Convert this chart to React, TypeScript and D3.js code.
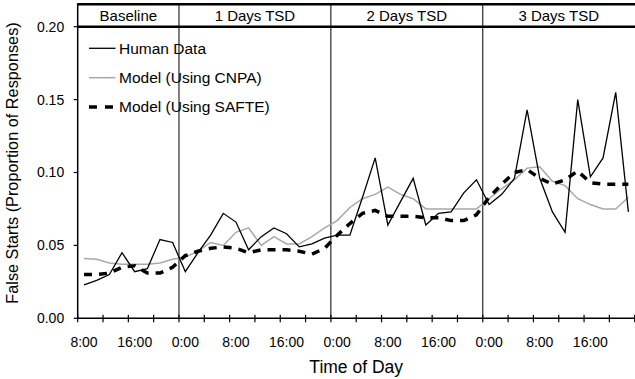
import { useEffect, useRef } from 'react';
import * as d3 from 'd3';

// hour of day for each 2-hour bin
const hours = [8, 10, 12, 14, 16, 18, 20, 22, 0, 2, 4, 6, 8, 10, 12, 14, 16, 18, 20, 22,
  0, 2, 4, 6, 8, 10, 12, 14, 16, 18, 20, 22, 0, 2, 4, 6, 8, 10, 12, 14, 16, 18, 20, 22];

const human = [0.023, 0.026, 0.030, 0.045, 0.032, 0.034, 0.054, 0.052, 0.032, 0.045,
  0.057, 0.072, 0.066, 0.047, 0.056, 0.062, 0.058, 0.049, 0.051, 0.055,
  0.057, 0.057, 0.083, 0.110, 0.064, 0.080, 0.096, 0.064, 0.072, 0.073,
  0.086, 0.095, 0.078, 0.085, 0.096, 0.143, 0.096, 0.073, 0.059, 0.150,
  0.097, 0.110, 0.155, 0.073];

const cnpa = [0.041, 0.0405, 0.038, 0.037, 0.037, 0.037, 0.038, 0.0405, 0.042, 0.046,
  0.052, 0.050, 0.059, 0.062, 0.050, 0.056, 0.051, 0.051, 0.056, 0.062,
  0.067, 0.076, 0.082, 0.085, 0.090, 0.085, 0.082, 0.075, 0.075, 0.075,
  0.075, 0.075, 0.082, 0.089, 0.095, 0.103, 0.104, 0.094, 0.091, 0.082,
  0.078, 0.075, 0.075, 0.083];

const safte = [0.030, 0.030, 0.031, 0.035, 0.036, 0.031, 0.031, 0.035, 0.043, 0.046,
  0.048, 0.049, 0.048, 0.045, 0.047, 0.047, 0.047, 0.046, 0.044, 0.048,
  0.057, 0.065, 0.072, 0.074, 0.070, 0.070, 0.070, 0.069, 0.069, 0.067,
  0.067, 0.071, 0.083, 0.092, 0.100, 0.102, 0.096, 0.092, 0.095, 0.101,
  0.093, 0.092, 0.092, 0.092];

const sectionLabels = ['Baseline', '1 Days TSD', '2 Days TSD', '3 Days TSD'];
const sectionStarts = [0, 8, 20, 32];

const yTicks = [0, 0.05, 0.1, 0.15, 0.2];

const seriesNames = ['Human Data', 'Model (Using CNPA)', 'Model (Using SAFTE)'];

const FONT = '"Liberation Sans", Arial, sans-serif';

const App = () => {
  const svgRef = useRef(null);

  useEffect(() => {
    const svg = d3.select(svgRef.current);
    svg.selectAll('*').remove();

    const left = 77.7, right = 634.7, top = 26.7, bottom = 318.3, bandTop = 4.3;

    const x = d3.scaleBand()
      .domain(hours.map((_, i) => i))
      .range([left, right])
      .padding(0);
    const step = x.step();
    const cx = i => x(i) + step / 2;

    const y = d3.scaleLinear().domain([0, 0.2]).range([bottom, top]);

    const g = svg.append('g').style('font-family', FONT);

    // section dividers
    sectionStarts.slice(1).forEach(s => {
      g.append('line')
        .attr('x1', x(s)).attr('x2', x(s))
        .attr('y1', bandTop).attr('y2', bottom)
        .attr('stroke', '#000').attr('stroke-width', 1);
    });

    // header band
    g.append('line').attr('x1', left).attr('x2', 635).attr('y1', bandTop).attr('y2', bandTop)
      .attr('stroke', '#000').attr('stroke-width', 2.5);
    g.append('line').attr('x1', left).attr('x2', 635).attr('y1', top).attr('y2', top)
      .attr('stroke', '#000').attr('stroke-width', 2.5);

    sectionLabels.forEach((lab, k) => {
      const s = sectionStarts[k];
      const e = k + 1 < sectionStarts.length ? sectionStarts[k + 1] : hours.length;
      const mid = (x(s) + x(e - 1) + step) / 2;
      g.append('text')
        .attr('x', mid).attr('y', 21)
        .attr('text-anchor', 'middle')
        .style('font-size', '15px')
        .text(lab);
    });

    // y axis
    g.append('line').attr('x1', left).attr('x2', left).attr('y1', bandTop - 1).attr('y2', bottom)
      .attr('stroke', '#000').attr('stroke-width', 1.5);
    yTicks.forEach(t => {
      g.append('line').attr('x1', left - 4).attr('x2', left).attr('y1', y(t)).attr('y2', y(t))
        .attr('stroke', '#000').attr('stroke-width', 1.2);
      g.append('text')
        .attr('x', left - 13.5).attr('y', y(t))
        .attr('dy', '0.35em')
        .attr('text-anchor', 'end')
        .style('font-size', '14px')
        .text(d3.format('.2f')(t));
    });

    // x axis
    g.append('line').attr('x1', left).attr('x2', right).attr('y1', bottom).attr('y2', bottom)
      .attr('stroke', '#000').attr('stroke-width', 1.5);
    const tickIdx = d3.range(0, hours.length + 1, 2);
    tickIdx.forEach(i => {
      const tx = i < hours.length ? x(i) : right;
      g.append('line').attr('x1', tx).attr('x2', tx).attr('y1', bottom - 3.5).attr('y2', bottom + 4)
        .attr('stroke', '#000').attr('stroke-width', 1.2);
    });
    hours.forEach((h, i) => {
      if (i % 4 !== 0) return;
      g.append('text')
        .attr('x', cx(i)).attr('y', 346.5)
        .attr('text-anchor', 'middle')
        .style('font-size', '14px')
        .text(`${h}:00`);
    });

    // axis titles
    g.append('text')
      .attr('x', (left + right) / 2).attr('y', 372.7)
      .attr('text-anchor', 'middle')
      .style('font-size', '17.5px')
      .text('Time of Day');
    g.append('text')
      .attr('transform', `translate(18,163) rotate(-90)`)
      .attr('text-anchor', 'middle')
      .style('font-size', '16.3px')
      .text('False Starts (Proportion of Responses)');

    // lines
    const line = d3.line().x((d, i) => cx(i)).y(d => y(d));

    g.append('path').datum(cnpa).attr('d', line)
      .attr('fill', 'none').attr('stroke', '#a8a8a8').attr('stroke-width', 1.5);
    g.append('path').datum(safte).attr('d', line)
      .attr('fill', 'none').attr('stroke', '#000').attr('stroke-width', 3.5)
      .attr('stroke-dasharray', '8,7');
    g.append('path').datum(human).attr('d', line)
      .attr('fill', 'none').attr('stroke', '#000').attr('stroke-width', 1.3)
      .attr('stroke-linejoin', 'miter');

    // legend
    const legendY = [48.3, 77.7, 107];
    const styles = [
      { stroke: '#000', width: 1.3, dash: null },
      { stroke: '#a8a8a8', width: 1.5, dash: null },
      { stroke: '#000', width: 3.5, dash: '8,8' },
    ];
    seriesNames.forEach((name, k) => {
      g.append('line')
        .attr('x1', 89).attr('x2', 115.5)
        .attr('y1', legendY[k]).attr('y2', legendY[k])
        .attr('stroke', styles[k].stroke).attr('stroke-width', styles[k].width)
        .attr('stroke-dasharray', styles[k].dash);
      g.append('text')
        .attr('x', 119).attr('y', legendY[k])
        .attr('dy', '0.35em')
        .style('font-size', '15.5px')
        .text(name);
    });
  }, []);

  return (
    <svg ref={svgRef} width={635} height={379}
      style={{ position: 'absolute', left: 0, top: 0, background: '#fff' }} />
  );
};

export default App;
